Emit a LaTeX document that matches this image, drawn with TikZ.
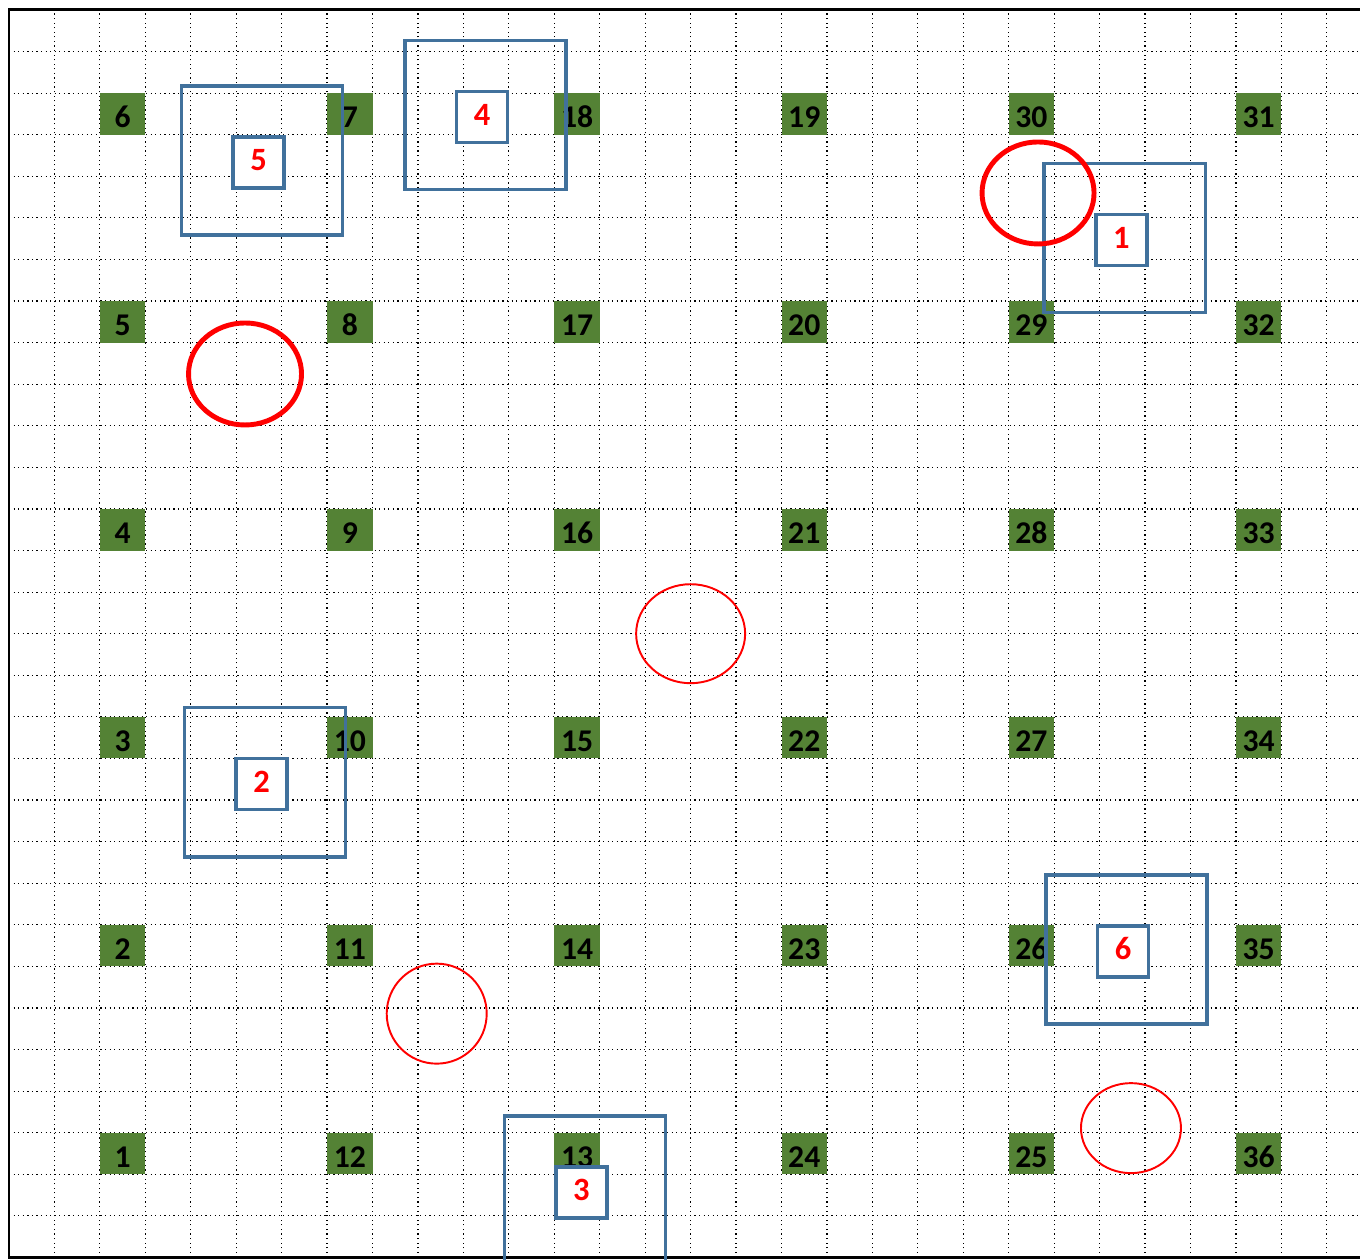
\documentclass[tikz,border=0pt]{standalone}
\usepackage{fontspec}
\setmainfont{Carlito}
\definecolor{cellgreen}{HTML}{548235}
\definecolor{markblue}{HTML}{41719C}
\begin{document}
\begin{tikzpicture}[x=0.9088cm, y=0.8316cm]
    \tikzset{gridline/.style={line width=0.7pt, dash pattern=on 0.7pt off 1.9pt},
      cell/.style={fill=cellgreen, minimum width=0.9088cm, minimum height=0.8316cm,
        inner sep=0pt, text height=0.56cm, text depth=0pt,
        font=\fontsize{18}{20}\selectfont\bfseries},
      outer/.style={draw=markblue, line width=2pt, minimum width=3.22cm,
        minimum height=2.98cm, xshift=0.07cm, yshift=0.04cm},
      inner/.style={draw=markblue, line width=2pt, fill=white, text=red,
        minimum width=1.02cm, minimum height=1.02cm, inner sep=0pt,
        text height=0.34cm, text depth=0pt,
        font=\fontsize{18.5}{20}\selectfont\bfseries},
      ring/.style={draw=red, line width=2.8pt},
      thinring/.style={draw=red, line width=1.1pt}}
    \useasboundingbox (-0.198,-0.04) rectangle (29.73,30.24);
    % dotted grid
    \foreach \k in {1,...,29}
      \draw[gridline] (\k,0) -- (\k,30);
    \foreach \j in {1,...,29}
      \draw[gridline] (0,\j) -- (29.73,\j);
    % numbered cells, snaking column by column
    \foreach \c in {0,...,5}
      \foreach \i in {0,...,5} {
        \pgfmathtruncatemacro{\n}{isodd(\c) ? 6*\c+6-\i : 6*\c+\i+1}
        \node[cell] (c\n) at (2.5+5*\c, 2.5+5*\i) {\n};
      }
    % frame, open on the right
    \draw[line width=1.7pt] (29.73,30) -- (0,30) -- (0,0) -- (29.73,0);
    % blue markers
    \foreach \n/\x/\y in {1/24.476/24.468, 2/5.56/11.38, 3/12.595/1.568,
        4/10.409/27.427, 5/5.491/26.332, 6/24.516/7.362} {
      \node[outer] (o\n) at (\x,\y) {};
      \node[inner] (m\n) at (\x,\y) {\n};
    }
    % red rings
    \draw[ring] (22.645,25.599) ellipse [x radius=1.12cm, y radius=1.02cm];
    \draw[ring] (5.194,21.246) ellipse [x radius=1.13cm, y radius=1.02cm];
    \draw[thinring] (15.0,15.0) ellipse [x radius=1.09cm, y radius=0.99cm];
    \draw[thinring] (9.412,5.863) ellipse [x radius=1.0cm, y radius=1.0cm];
    \draw[thinring] (24.69,3.11) ellipse [x radius=1.0cm, y radius=0.9cm];
  \end{tikzpicture}
\end{document}
